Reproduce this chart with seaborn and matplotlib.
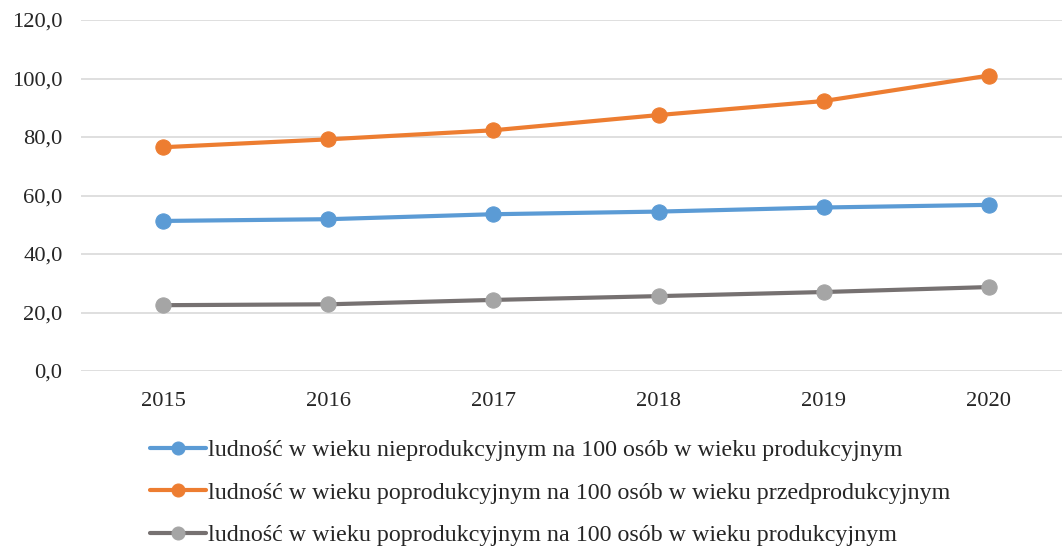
import matplotlib
matplotlib.use("Agg")
import matplotlib.pyplot as plt
from matplotlib.ticker import FixedLocator, FuncFormatter
import seaborn as sns

years = ["2015", "2016", "2017", "2018", "2019", "2020"]
nieprod_na_prod = [51.3, 51.9, 53.6, 54.5, 55.9, 56.8]
poprod_na_przedprod = [76.5, 79.2, 82.3, 87.5, 92.3, 101.0]
poprod_na_prod = [22.5, 22.8, 24.3, 25.6, 27.0, 28.7]

labels = [
    "ludność w wieku nieprodukcyjnym na 100 osób w wieku produkcyjnym",
    "ludność w wieku poprodukcyjnym na 100 osób w wieku przedprodukcyjnym",
    "ludność w wieku poprodukcyjnym na 100 osób w wieku produkcyjnym",
]
line_colors = ["#5B9BD5", "#ED7D31", "#767171"]
marker_colors = ["#5B9BD5", "#ED7D31", "#A5A5A5"]

sns.set_theme(style="white")
plt.rcParams["font.family"] = ["Liberation Serif", "DejaVu Serif"]

fig = plt.figure(figsize=(10.62, 5.46), dpi=100)
ax = fig.add_axes([80.5 / 1062, 1 - 371 / 546, 991 / 1062, 351 / 546])

x = list(range(len(years)))
for vals, label, lc, mc in zip([nieprod_na_prod, poprod_na_przedprod, poprod_na_prod],
                               labels, line_colors, marker_colors):
    sns.lineplot(x=x, y=vals, ax=ax, color=lc, linewidth=3.0, marker="o",
                 markersize=11, markerfacecolor=mc, markeredgecolor=mc,
                 label=label)

ax.set_xlim(-0.5, len(years) - 0.5)
ax.set_ylim(0, 120)
ax.yaxis.set_major_locator(FixedLocator([0, 20, 40, 60, 80, 100, 120]))
ax.yaxis.set_major_formatter(FuncFormatter(lambda v, p: f"{v:.1f}".replace(".", ",")))
ax.set_xticks(x)
ax.set_xticklabels(years)
ax.grid(axis="y", color="#D9D9D9", linewidth=1.2)
ax.grid(axis="x", visible=False)
for s in ax.spines.values():
    s.set_visible(False)
ax.tick_params(axis="both", length=0, labelsize=16.2, colors="#262626")
ax.tick_params(axis="y", pad=13)
ax.tick_params(axis="x", pad=15)
ax.set_xlabel("")
ax.set_ylabel("")

handles, leg_labels = ax.get_legend_handles_labels()
ax.get_legend().remove()
fig.legend(handles, leg_labels, loc="upper left",
           bbox_to_anchor=(128 / 1062, 1 - 418 / 546), frameon=False,
           fontsize=17.3, labelspacing=0.85, handlelength=2.35,
           handletextpad=0.1, markerscale=0.85, labelcolor="#262626")

fig.savefig("out.png", dpi=100)
